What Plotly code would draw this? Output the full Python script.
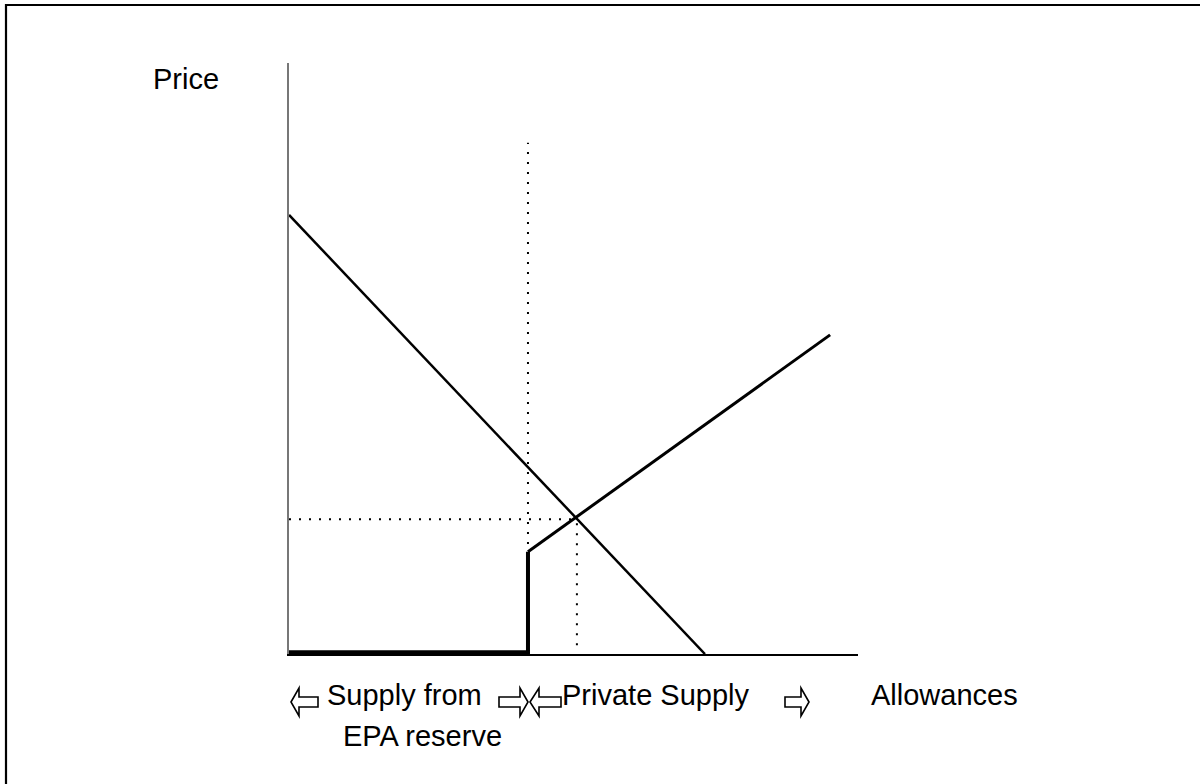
import plotly.graph_objects as go

# ---- data (quantity of allowances vs price, arbitrary units 0-100) ----
demand_q = [0.0, 73.1]
demand_p = [74.3, 0.0]

reserve_q = [0.0, 42.0, 42.0]          # EPA reserve supply (flat, then vertical)
reserve_p = [0.3, 0.3, 17.3]

private_q = [42.0, 95.1]               # private supply
private_p = [17.3, 54.0]

cutoff_q = 42.0                        # boundary between reserve and private supply
cutoff_top = 86.5
eq_q = 50.6                            # equilibrium
eq_p = 22.8

axis_label_y = "Price"
axis_label_x = "Allowances"
left_label = ["Supply from", "EPA reserve"]
right_label = "Private Supply"

# ---- layout geometry ----
W, H = 1200, 784
L, R, T, B = 289, 342, 63, 130
PW, PH = W - L - R, H - T - B


def px(x):
    return (x - L) / PW


def py(y):
    return (H - B - y) / PH


fig = go.Figure()

fig.add_trace(go.Scatter(x=demand_q, y=demand_p, mode="lines",
                         line=dict(color="black", width=2.5), hoverinfo="skip"))
fig.add_trace(go.Scatter(x=reserve_q, y=reserve_p, mode="lines",
                         line=dict(color="black", width=4), hoverinfo="skip"))
fig.add_trace(go.Scatter(x=private_q, y=private_p, mode="lines",
                         line=dict(color="black", width=3), hoverinfo="skip"))

dot = dict(color="black", width=2, dash="2px,8px")
fig.add_trace(go.Scatter(x=[cutoff_q, cutoff_q], y=[0, cutoff_top], mode="lines",
                         line=dot, hoverinfo="skip"))
fig.add_trace(go.Scatter(x=[0, eq_q], y=[eq_p, eq_p], mode="lines",
                         line=dot, hoverinfo="skip"))
fig.add_trace(go.Scatter(x=[eq_q, eq_q], y=[1.5, eq_p], mode="lines",
                         line=dot, hoverinfo="skip"))

font = dict(family="Liberation Sans, Arial, sans-serif", size=29, color="black")

annotations = [
    dict(text=axis_label_y, x=px(151), y=py(79), xanchor="left", yanchor="middle"),
    dict(text=left_label[0], x=px(325), y=py(695), xanchor="left", yanchor="middle"),
    dict(text=left_label[1], x=px(341), y=py(736), xanchor="left", yanchor="middle"),
    dict(text=right_label, x=px(560), y=py(695), xanchor="left", yanchor="middle"),
    dict(text=axis_label_x, x=px(869), y=py(695), xanchor="left", yanchor="middle"),
]
for a in annotations:
    a.update(xref="paper", yref="paper", showarrow=False, font=font)


def arrow_path(x0, x1, yc, head_w, head_h, shaft_h, direction):
    # hollow block arrow outline, in pixel coords converted to paper
    if direction == "left":
        pts = [(x0, yc), (x0 + head_w, yc - head_h), (x0 + head_w, yc - shaft_h),
               (x1, yc - shaft_h), (x1, yc + shaft_h), (x0 + head_w, yc + shaft_h),
               (x0 + head_w, yc + head_h)]
    else:
        pts = [(x1, yc), (x1 - head_w, yc - head_h), (x1 - head_w, yc - shaft_h),
               (x0, yc - shaft_h), (x0, yc + shaft_h), (x1 - head_w, yc + shaft_h),
               (x1 - head_w, yc + head_h)]
    d = "M " + " L ".join(f"{px(a):.5f},{py(b):.5f}" for a, b in pts) + " Z"
    return dict(type="path", path=d, xref="paper", yref="paper",
                line=dict(color="black", width=1.6), fillcolor="rgba(0,0,0,0)")


frame_path = (f"M {px(6):.5f},{py(800):.5f} L {px(6):.5f},{py(5):.5f} "
              f"L {px(1230):.5f},{py(5):.5f}")

shapes = [
    # outer frame (only its left and top edges are inside the picture)
    dict(type="path", path=frame_path, xref="paper", yref="paper",
         line=dict(color="black", width=2.2), fillcolor="rgba(0,0,0,0)"),
    arrow_path(291, 318, 702, 8, 14, 5, "left"),
    arrow_path(499, 528, 702, 8, 14, 5, "right"),
    arrow_path(530, 561, 702, 9, 14, 5, "left"),
    arrow_path(785, 809, 702, 8, 14, 5, "right"),
]

fig.update_layout(
    width=W, height=H,
    margin=dict(l=L, r=R, t=T, b=B, pad=0),
    paper_bgcolor="white", plot_bgcolor="white",
    showlegend=False,
    xaxis=dict(range=[0, 100], showgrid=False, zeroline=False, showticklabels=False,
               ticks="", showline=True, linecolor="black", linewidth=2, fixedrange=True),
    yaxis=dict(range=[0, 100], showgrid=False, zeroline=False, showticklabels=False,
               ticks="", showline=True, linecolor="#777777", linewidth=1.5, fixedrange=True),
    annotations=annotations,
    shapes=shapes,
)

fig.write_html(
    "out.html",
    config=dict(displayModeBar=False),
    post_script="document.body.style.margin='0';document.body.style.overflow='hidden';",
)
